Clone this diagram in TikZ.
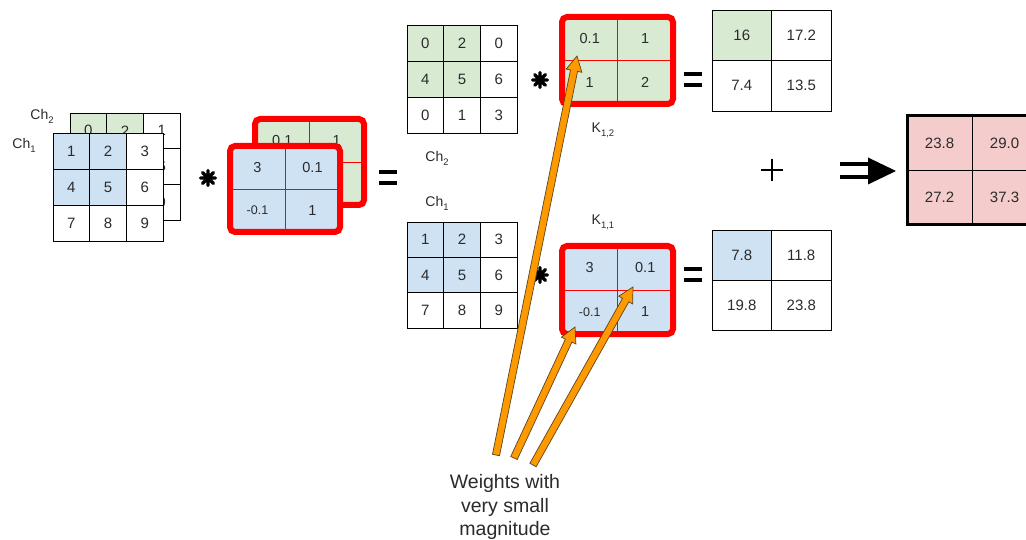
\documentclass[tikz,border=0pt]{standalone}
\usepackage{fontspec}
\setmainfont{Liberation Sans}
\usetikzlibrary{calc}
\definecolor{cgreen}{HTML}{D9EAD3}
\definecolor{cblue}{HTML}{CFE2F3}
\definecolor{cpink}{HTML}{F4CCCC}
\definecolor{corange}{HTML}{FF9900}
\definecolor{arrline}{HTML}{5A4420}
\definecolor{txt}{HTML}{2B2B2B}

% lowered small index, as in Ch_1 or K_{1,1}
\newcommand\idx[1]{\raisebox{-0.55ex}{\fontsize{9.5}{10}\selectfont #1}}
\newcommand\negval{\fontsize{12.5}{14}\selectfont}

% grid of cells: name, style, x0, y0, cell width, cell height, columns, list of value/fill
\newcommand\cellgrid[8]{%
  \foreach \v/\f [count=\i from 0] in {#8} {
    \pgfmathtruncatemacro\rr{floor(\i/#7)}
    \pgfmathtruncatemacro\cc{mod(\i,#7)}
    \node[#2, fill=\f, minimum width=#5pt, minimum height=#6pt]
      (#1-\rr-\cc) at ({#3+(\cc+0.5)*#5},{#4+(\rr+0.5)*#6}) {\v};
  }}

% orange block arrow between two named points
\newcommand\warrow[2]{%
  \coordinate (hb) at ($(#2)!15pt!(#1)$);
  \filldraw[warr]
    ($(#1)!3.6pt!90:(#2)$) -- ($(hb)!3.6pt!-90:(#1)$) -- ($(hb)!8pt!-90:(#1)$)
    -- (#2) -- ($(hb)!8pt!90:(#1)$) -- ($(hb)!3.6pt!90:(#1)$)
    -- ($(#1)!3.6pt!-90:(#2)$) -- cycle;}

\begin{document}
\begin{tikzpicture}[x=1pt,y=-1pt,
  cell/.style={draw=black, line width=0.9pt, inner sep=0pt, text=txt,
    font=\fontsize{15}{17}\selectfont},
  kcell/.style={draw=red, line width=0.8pt, inner sep=0pt, text=txt,
    font=\fontsize{14.5}{16}\selectfont},
  kborder/.style={draw=red, line width=6pt, rounded corners=5pt},
  rescell/.style={draw=black, line width=0.9pt, inner sep=0pt, text=txt,
    font=\fontsize{15}{17}\selectfont},
  lbl/.style={text=txt, font=\fontsize{14}{16}\selectfont, inner sep=0pt},
  sym/.style={line width=3.4pt, line cap=round, black},
  eqbar/.style={line width=4pt, black},
  warr/.style={draw=arrline, fill=corange, line width=0.7pt, line join=miter},
  note/.style={text=txt, align=center, inner sep=0pt,
    font=\fontsize{19.5}{23.5}\selectfont}]
\useasboundingbox (0,0) rectangle (1026,540);
\fill[white] (0,0) rectangle (1026,540);

% ---- input volume: Ch2 behind Ch1
\cellgrid{inB}{cell}{70}{113}{36.67}{35.67}{3}{0/cgreen,2/cgreen,1/white,4/cgreen,5/cgreen,6/white,7/white,8/white,9/white}
\cellgrid{inF}{cell}{53}{133}{36.67}{36}{3}{1/cblue,2/cblue,3/white,4/cblue,5/cblue,6/white,7/white,8/white,9/white}
\node[lbl] (lch2) at (42,116) {Ch\idx{2}};
\node[lbl] (lch1) at (24,145) {Ch\idx{1}};

% ---- convolution sign
\node (star0) at (208,178) {};
\draw[sym] ($(star0)+(-7.5,0)$) -- ($(star0)+(7.5,0)$)
  ($(star0)+(0,-7.5)$) -- ($(star0)+(0,7.5)$)
  ($(star0)+(-5.3,-5.3)$) -- ($(star0)+(5.3,5.3)$)
  ($(star0)+(-5.3,5.3)$) -- ($(star0)+(5.3,-5.3)$);

% ---- kernel stack
\cellgrid{kB}{kcell}{255}{119}{54.5}{43}{2}{0.1/cgreen,1/cgreen,1/cgreen,2/cgreen}
\draw[kborder] (255,119) rectangle (364,205);
\cellgrid{kF}{kcell}{230}{146}{55}{43}{2}{3/cblue,0.1/cblue,{\negval -0.1}/cblue,1/cblue}
\draw[kborder] (230,146) rectangle (340,232);

% ---- equals
\node (eq0) at (388,178) {};
\draw[eqbar] ($(eq0)+(-9,-5.5)$) -- ($(eq0)+(9,-5.5)$) ($(eq0)+(-9,5.5)$) -- ($(eq0)+(9,5.5)$);

% ---- channel 2 branch
\cellgrid{c2}{cell}{407}{25}{36.67}{36}{3}{0/cgreen,2/cgreen,0/white,4/cgreen,5/cgreen,6/white,0/white,1/white,3/white}
\node[lbl] (mch2) at (437,158) {Ch\idx{2}};
\node (star2) at (540,80) {};
\draw[sym] ($(star2)+(-7.5,0)$) -- ($(star2)+(7.5,0)$)
  ($(star2)+(0,-7.5)$) -- ($(star2)+(0,7.5)$)
  ($(star2)+(-5.3,-5.3)$) -- ($(star2)+(5.3,5.3)$)
  ($(star2)+(-5.3,5.3)$) -- ($(star2)+(5.3,-5.3)$);
\cellgrid{k12}{kcell}{562}{17}{55.5}{43.5}{2}{0.1/cgreen,1/cgreen,1/cgreen,2/cgreen}
\draw[kborder] (562,17) rectangle (673,104);
\node[lbl] (lk12) at (603,130) {K\idx{1,2}};
\node (eq2) at (693,80) {};
\draw[eqbar] ($(eq2)+(-9,-5.5)$) -- ($(eq2)+(9,-5.5)$) ($(eq2)+(-9,5.5)$) -- ($(eq2)+(9,5.5)$);
\cellgrid{o2}{cell}{712}{10}{59.5}{50.5}{2}{16/cgreen,17.2/white,7.4/white,13.5/white}

% ---- channel 1 branch
\node[lbl] (mch1) at (437,203) {Ch\idx{1}};
\cellgrid{c1}{cell}{407}{222}{36.67}{35.33}{3}{1/cblue,2/cblue,3/white,4/cblue,5/cblue,6/white,7/white,8/white,9/white}
\node (star1) at (540,275) {};
\draw[sym] ($(star1)+(-7.5,0)$) -- ($(star1)+(7.5,0)$)
  ($(star1)+(0,-7.5)$) -- ($(star1)+(0,7.5)$)
  ($(star1)+(-5.3,-5.3)$) -- ($(star1)+(5.3,5.3)$)
  ($(star1)+(-5.3,5.3)$) -- ($(star1)+(5.3,-5.3)$);
\node[lbl] (lk11) at (603,222) {K\idx{1,1}};
\cellgrid{k11}{kcell}{562}{246}{55.5}{44}{2}{3/cblue,0.1/cblue,{\negval -0.1}/cblue,1/cblue}
\draw[kborder] (562,246) rectangle (673,334);
\node (eq1) at (693,275) {};
\draw[eqbar] ($(eq1)+(-9,-5.5)$) -- ($(eq1)+(9,-5.5)$) ($(eq1)+(-9,5.5)$) -- ($(eq1)+(9,5.5)$);
\cellgrid{o1}{cell}{712}{230}{59.5}{50}{2}{7.8/cblue,11.8/white,19.8/white,23.8/white}

% ---- sum and result
\node (plus) at (772,170) {};
\draw[line width=2pt] ($(plus)+(-11,0)$) -- ($(plus)+(11,0)$) ($(plus)+(0,-11)$) -- ($(plus)+(0,11)$);
\node (impl) at (868,171) {};
\draw[line width=4pt] ($(impl)+(-28,-6.5)$) -- ($(impl)+(4,-6.5)$) ($(impl)+(-28,6.5)$) -- ($(impl)+(4,6.5)$);
\fill ($(impl)+(0,-13.5)$) -- ($(impl)+(28,0)$) -- ($(impl)+(0,13.5)$) -- cycle;
\cellgrid{res}{rescell}{907}{116}{65}{54.5}{2}{23.8/cpink,29.0/cpink,27.2/cpink,37.3/cpink}
\draw[line width=3pt] (907,116) rectangle (1037,225);

% ---- small-weight pointers
\node[note] (note) at (505,507) {Weights with\\very small\\magnitude};
\coordinate (t1) at (496,455);
\coordinate (t2) at (514,458);
\coordinate (t3) at (533,465);
\coordinate (h1) at (577,56);
\coordinate (h2) at (575,327);
\coordinate (h3) at (633,287);
\warrow{t1}{h1}
\warrow{t2}{h2}
\warrow{t3}{h3}
\end{tikzpicture}
\end{document}
